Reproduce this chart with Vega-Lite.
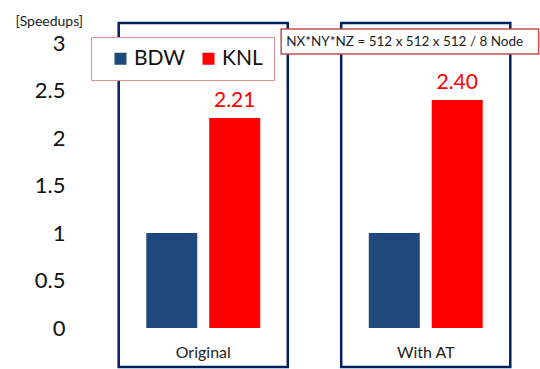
{
  "$schema": "https://vega.github.io/schema/vega-lite/v6.json",
  "width": 451,
  "height": 285,
  "autosize": {"type": "none"},
  "padding": {"left": 89, "top": 43, "right": 0, "bottom": 41},
  "background": "white",
  "config": {"view": {"stroke": null}, "font": "Lato"},
  "data": {
    "values": [
      {"case": "Original", "series": "BDW", "speedup": 1.0},
      {"case": "Original", "series": "KNL", "speedup": 2.21},
      {"case": "With AT", "series": "BDW", "speedup": 1.0},
      {"case": "With AT", "series": "KNL", "speedup": 2.40}
    ]
  },
  "resolve": {"scale": {"x": "independent"}, "axis": {"x": "independent"}},
  "layer": [
    {
      "layer": [
        {
          "transform": [{"filter": "datum.series === 'BDW'"}],
          "mark": {"type": "rect", "fill": "transparent", "stroke": "#002060", "strokeWidth": 2.5, "width": {"band": 0.76}},
          "encoding": {
            "x": {"field": "case", "type": "nominal", "sort": ["Original", "With AT"], "scale": {"paddingInner": 0, "paddingOuter": 0.0135}},
            "y": {"datum": 3.21, "type": "quantitative", "scale": {"domain": [0, 3], "nice": false}},
            "y2": {"datum": -0.41}
          }
        },
        {
          "mark": {"type": "bar"},
          "encoding": {
            "x": {
              "field": "case", "type": "nominal", "sort": ["Original", "With AT"],
              "scale": {"paddingInner": 0, "paddingOuter": 0.0135},
              "axis": {"title": null, "labelAngle": 0, "labelAlign": "center", "labelBaseline": "middle", "domain": false, "ticks": false, "labelFontSize": 16, "labelColor": "#222", "labelPadding": 24, "labelFont": "Lato"}
            },
            "xOffset": {"field": "series", "type": "nominal", "scale": {"paddingInner": 0.19, "paddingOuter": 0.862}},
            "y": {
              "field": "speedup", "type": "quantitative",
              "scale": {"domain": [0, 3], "nice": false},
              "axis": {
                "title": "[Speedups]", "titleAngle": 0, "titleAlign": "left", "titleBaseline": "middle",
                "titleX": -74, "titleY": -22, "titleFontSize": 14, "titleFontWeight": "normal", "titleColor": "#222", "titleFont": "Lato",
                "values": [0, 0.5, 1, 1.5, 2, 2.5, 3], "format": "~g",
                "labelFontSize": 22, "labelColor": "#111", "labelPadding": 24, "labelFont": "Lato",
                "domain": false, "ticks": false, "gridColor": "#d9d9d9", "gridWidth": 1
              }
            },
            "color": {
              "field": "series", "type": "nominal",
              "scale": {"domain": ["BDW", "KNL"], "range": ["#1F497D", "#FF0000"]},
              "legend": {
                "title": null, "orient": "none", "legendX": 2, "legendY": -6, "direction": "horizontal",
                "symbolType": "square", "symbolSize": 144, "symbolStrokeWidth": 0,
                "labelFontSize": 21, "labelFont": "Lato", "labelColor": "#111",
                "fillColor": "white", "strokeColor": "#d99594", "padding": 11,
                "symbolOffset": 8, "columnPadding": 4, "labelOffset": 3
              }
            }
          }
        },
        {
          "transform": [{"filter": "datum.series === 'KNL'"}],
          "mark": {"type": "text", "color": "#FF0000", "fontSize": 21, "font": "Lato", "baseline": "alphabetic", "dy": -11},
          "encoding": {
            "x": {"field": "case", "type": "nominal", "sort": ["Original", "With AT"], "scale": {"paddingInner": 0, "paddingOuter": 0.0135}},
            "xOffset": {"field": "series", "type": "nominal", "scale": {"domain": ["BDW", "KNL"], "paddingInner": 0.19, "paddingOuter": 0.862}},
            "y": {"field": "speedup", "type": "quantitative"},
            "text": {"field": "speedup", "type": "quantitative", "format": ".2f"}
          }
        }
      ]
    },
    {
      "data": {"values": [{"note": "NX*NY*NZ = 512 x 512 x 512 / 8 Node"}]},
      "layer": [
        {
          "mark": {"type": "rect", "fill": "white", "stroke": "#c0504d", "strokeWidth": 1.5},
          "encoding": {
            "x": {"datum": 0.426, "type": "quantitative", "scale": {"domain": [0, 1], "nice": false}, "axis": null},
            "x2": {"datum": 0.997},
            "y": {"datum": 3.147, "type": "quantitative"},
            "y2": {"datum": 2.884}
          }
        },
        {
          "mark": {"type": "text", "fontSize": 13.5, "color": "#222", "font": "Lato", "baseline": "middle", "align": "center"},
          "encoding": {
            "x": {"datum": 0.7, "type": "quantitative", "scale": {"domain": [0, 1], "nice": false}, "axis": null},
            "y": {"datum": 3.015, "type": "quantitative"},
            "text": {"field": "note", "type": "nominal"}
          }
        }
      ]
    }
  ]
}
